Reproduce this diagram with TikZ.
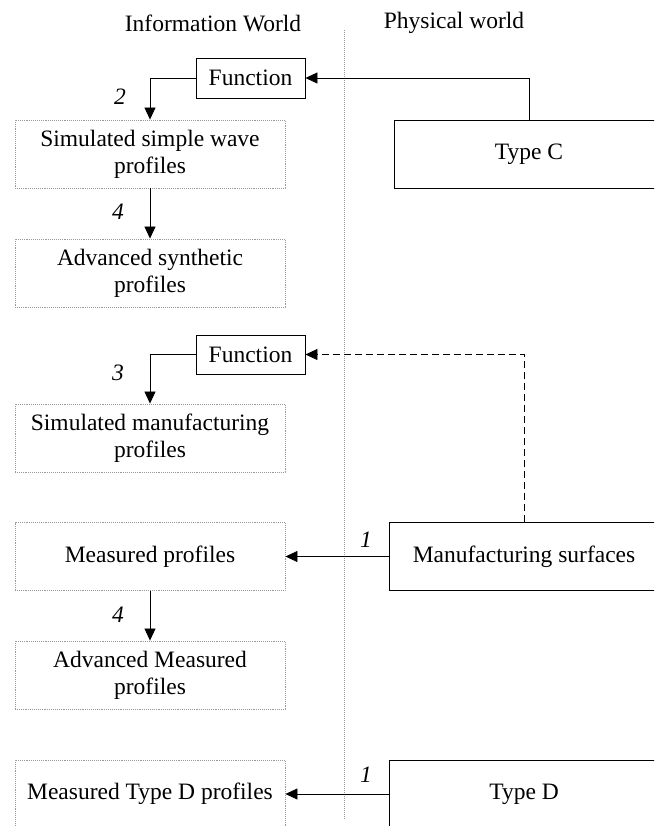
\documentclass[tikz,border=0pt]{standalone}
\usepackage{fontspec}
\setmainfont{Liberation Serif}
\usetikzlibrary{arrows.meta}
\begin{document}
\begin{tikzpicture}[x=1pt,y=-1pt,
  every node/.style={font=\fontsize{23.5}{27}\selectfont},
  solidbox/.style={draw=black,line width=0.9pt,rectangle,inner sep=0pt,align=center},
  dotbox/.style={draw=gray!80,densely dotted,line width=0.9pt,rectangle,inner sep=0pt,
    minimum width=270pt,minimum height=68pt,align=center},
  wide/.style={solidbox,minimum width=270pt,minimum height=68pt},
  arr/.style={line width=0.8pt,-{Triangle[length=12pt,width=11pt]}},
  num/.style={font=\fontsize{23.5}{27}\selectfont\itshape,inner sep=0pt}]
\useasboundingbox (0,0) rectangle (654,826);
\clip (0,0) rectangle (654,826);

% column headings and divider
\node (hinfo) at (213,23) {Information World};
\node (hphys) at (454,23) {Physical world};
\draw[gray!80,densely dotted,line width=1pt] (344.5,30) -- (344.5,820);

% information world
\node[solidbox,minimum width=109pt,minimum height=40pt] (fn1) at (250.5,78) {Function};
\node[dotbox] (sw) at (150,154) {Simulated simple wave\\profiles};
\node[dotbox] (as) at (150,273) {Advanced synthetic\\profiles};
\node[solidbox,minimum width=109pt,minimum height=39pt] (fn2) at (250.5,354.5) {Function};
\node[dotbox] (sm) at (150,438) {Simulated manufacturing\\profiles};
\node[dotbox] (mp) at (150,556.5) {Measured profiles};
\node[dotbox] (am) at (150,675) {Advanced Measured\\profiles};
\node[dotbox] (mtd) at (150,794) {Measured Type D profiles};

% physical world
\node[wide] (typec) at (529,154) {Type C};
\node[wide] (mfg) at (524,556.5) {Manufacturing surfaces};
\node[wide] (typed) at (524,794) {Type D};

% connectors
\draw[arr] (typec.north) |- (fn1.east);
\draw[arr] (fn1.west) -| (sw.north);
\draw[arr] (sw.south) -- (as.north);
\draw[arr,dashed,dash pattern=on 7pt off 4pt] (mfg.north) |- (fn2.east);
\draw[arr] (fn2.west) -| (sm.north);
\draw[arr] (mfg.west) -- (mp.east);
\draw[arr] (mp.south) -- (am.north);
\draw[arr] (typed.west) -- (mtd.east);

% step numbers
\node[num] (n2) at (120,97) {2};
\node[num] (n4a) at (118,212) {4};
\node[num] (n3) at (118,373) {3};
\node[num] (n4b) at (118,615) {4};
\node[num] (n1a) at (366,540) {1};
\node[num] (n1b) at (366,775) {1};
\end{tikzpicture}
\end{document}
